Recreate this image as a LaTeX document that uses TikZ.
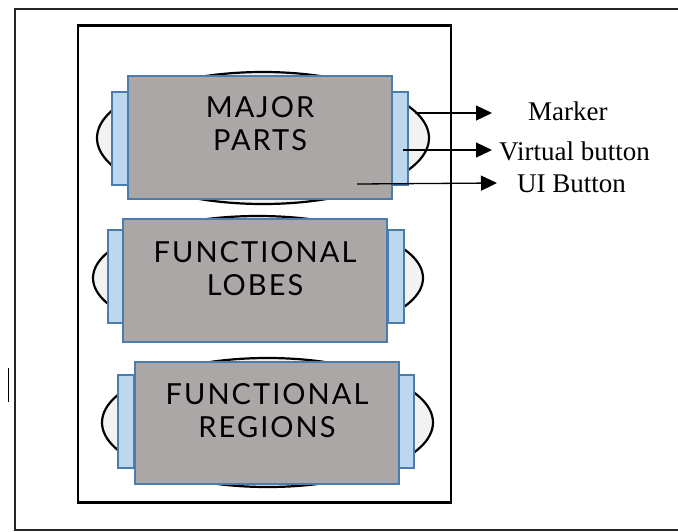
\documentclass[tikz,border=0pt]{standalone}
\usepackage{fontspec}
\setmainfont{Liberation Serif}
\newfontfamily\boxfont[LetterSpace=7]{Lato}
\usetikzlibrary{shapes.geometric,arrows.meta}
\definecolor{rectgray}{HTML}{ABA7A6}
\definecolor{rectblue}{HTML}{4A7CAE}
\definecolor{tabblue}{HTML}{BDD7EE}
\definecolor{ellfill}{HTML}{F2F2F2}
\tikzset{
  lobe/.style={ellipse, draw=black, line width=2.2pt, fill=ellfill, inner sep=0pt},
  tab/.style={rectangle, draw=rectblue, line width=2pt, fill=tabblue, minimum width=16pt, minimum height=93pt, inner sep=0pt},
  core/.style={rectangle, draw=rectblue, line width=2.5pt, fill=rectgray, minimum width=264pt, minimum height=123pt, inner sep=0pt},
  coretext/.style={align=center, font=\boxfont\fontsize{29}{33}\selectfont, inner sep=0pt},
  lbl/.style={anchor=base west, font=\fontsize{27}{30}\selectfont, inner sep=0pt},
  arr/.style={line width=1.3pt, -{Triangle[length=16pt,width=15pt]}},
}
\begin{document}
\begin{tikzpicture}[x=1pt,y=-1pt]
\useasboundingbox (0,0) rectangle (678,531);
% outer frame
\draw[line width=2.2pt, color=black!85] (678,9) -- (15,9) -- (15,530) -- (678,530);
\draw[line width=1pt] (8,368) -- (8,402);
% inner frame
\node[draw, line width=2.5pt, minimum width=373pt, minimum height=477pt, inner sep=0pt] (frame) at (264.5,264) {};
% box 1
\node[lobe, minimum width=332pt, minimum height=132pt] (e1) at (263,138) {};
\node[tab] (t1l) at (120,138) {};
\node[tab] (t1r) at (400,138) {};
\node[core] (r1) at (260,137.5) {};
\node[coretext] (x1) at (260,124) {MAJOR\\PARTS};
% box 2
\node[lobe, minimum width=330pt, minimum height=124pt] (e2) at (258,278) {};
\node[tab] (t2l) at (115.5,276.5) {};
\node[tab] (t2r) at (396,276.5) {};
\node[core] (r2) at (255,280.5) {};
\node[coretext] (x2) at (255,269) {FUNCTIONAL\\LOBES};
% box 3
\node[lobe, minimum width=331pt, minimum height=129pt] (e3) at (267.5,422.5) {};
\node[tab] (t3l) at (126,421.5) {};
\node[tab] (t3r) at (406,421.5) {};
\node[core, minimum height=122pt] (r3) at (267,423) {};
\node[coretext] (x3) at (267,410.5) {FUNCTIONAL\\REGIONS};
% labels
\node[lbl] (lm) at (528,120) {Marker};
\node[lbl] (lv) at (499,160) {Virtual button};
\node[lbl] (lu) at (517,192) {UI Button};
% arrows
\coordinate (am0) at (415,113);
\coordinate (am1) at (492,113);
\coordinate (av0) at (403,150);
\coordinate (av1) at (492,150);
\coordinate (au0) at (357,184);
\coordinate (au1) at (497,183);
\draw[arr] (am0) -- (am1);
\draw[arr] (av0) -- (av1);
\draw[arr] (au0) -- (au1);
\end{tikzpicture}
\end{document}
